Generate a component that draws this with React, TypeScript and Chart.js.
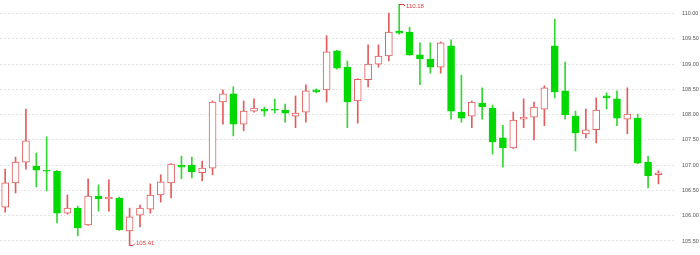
import React, { useEffect, useRef } from "react";
import { Chart, registerables } from "chart.js";

Chart.register(...registerables);

const opens = [
  106.17, 106.65, 107.06, 106.98, 106.9, 106.88, 106.05, 106.15, 105.82, 106.39,
  106.33, 106.35, 105.7, 106.01, 106.13, 106.41, 106.65, 107.0, 107.0, 106.85,
  106.94, 108.25, 108.41, 107.81, 108.07, 108.11, 108.11, 108.09, 107.97, 108.05,
  108.49, 108.49, 109.26, 108.94, 108.27, 108.69, 109.0, 109.16, 109.65, 109.63,
  109.18, 109.1, 108.94, 109.36, 108.05, 107.97, 108.23, 108.13, 107.54, 107.34,
  107.91, 107.95, 108.11, 109.36, 108.47, 107.97, 107.62, 107.7, 108.37, 108.31,
  107.91, 107.93, 107.06, 106.81,
];
const closes = [
  106.65, 107.06, 107.48, 106.9, 106.88, 106.05, 106.15, 105.76, 106.39, 106.33,
  106.37, 105.72, 105.98, 106.15, 106.41, 106.67, 107.02, 106.96, 106.87, 106.94,
  108.25, 108.41, 107.81, 108.07, 108.13, 108.07, 108.09, 108.03, 108.03, 108.47,
  108.45, 109.24, 108.92, 108.25, 108.7, 109.0, 109.16, 109.63, 109.61, 109.18,
  109.1, 108.94, 109.42, 108.07, 107.93, 108.25, 108.15, 107.46, 107.34, 107.89,
  107.95, 108.15, 108.53, 108.45, 108.0, 107.64, 107.7, 108.09, 108.33, 107.93,
  108.01, 107.04, 106.79, 106.85,
];
const highs = [
  106.92, 107.16, 108.11, 107.24, 107.56, 106.9, 106.41, 106.19, 106.73, 106.61,
  106.71, 106.37, 106.15, 106.21, 106.63, 106.81, 107.03, 107.18, 107.16, 107.08,
  108.27, 108.49, 108.55, 108.27, 108.31, 108.15, 108.31, 108.21, 108.37, 108.59,
  108.51, 109.56, 109.27, 109.06, 108.71, 109.38, 109.38, 110.01, 110.18, 109.73,
  109.42, 109.42, 109.44, 109.48, 108.78, 108.27, 108.53, 108.19, 107.79, 108.05,
  108.31, 108.25, 108.57, 109.89, 109.04, 108.07, 108.11, 108.33, 108.43, 108.47,
  108.53, 108.01, 107.18, 106.89,
];
const lows = [
  106.07, 106.45, 106.92, 106.57, 106.49, 105.86, 106.03, 105.6, 105.81, 106.09,
  106.09, 105.71, 105.41, 105.78, 106.05, 106.27, 106.35, 106.73, 106.75, 106.69,
  106.81, 107.81, 107.58, 107.68, 108.05, 107.97, 108.03, 107.85, 107.74, 107.85,
  108.43, 108.25, 108.9, 107.74, 107.83, 108.55, 108.94, 109.06, 109.59, 109.17,
  108.59, 108.82, 108.82, 107.91, 107.85, 107.74, 107.91, 107.22, 106.96, 107.33,
  107.74, 107.5, 107.78, 108.33, 107.91, 107.28, 107.54, 107.44, 108.11, 107.78,
  107.62, 107.03, 106.55, 106.63,
];
// one empty slot after the last candle
const categories = [...opens.map((_, i) => String(i + 1)), ""];
const yTicks = [105.5, 106.0, 106.5, 107.0, 107.5, 108.0, 108.5, 109.0, 109.5, 110.0];
const Y_MIN = 105.223;
const Y_MAX = 110.267;

const UP = "#e35d5d";
const DOWN = "#00d800";
const WICK_DOWN = "#33d633";
const MARK = "#e03a3a";

const markPlugin = {
  id: "extremes",
  afterDatasetsDraw(chart: any) {
    const ctx = chart.ctx;
    const meta = chart.getDatasetMeta(0);
    const y = chart.scales.y;
    let hi = 0;
    let lo = 0;
    highs.forEach((v, i) => { if (v > highs[hi]) hi = i; });
    lows.forEach((v, i) => { if (v < lows[lo]) lo = i; });
    ctx.save();
    ctx.strokeStyle = MARK;
    ctx.fillStyle = MARK;
    ctx.lineWidth = 1;
    ctx.font = "6px 'Liberation Sans'";
    ctx.textBaseline = "middle";
    ctx.textAlign = "left";
    // high
    const xh = Math.round(meta.data[hi].x);
    const yh = Math.round(y.getPixelForValue(highs[hi])) + 0.5;
    ctx.beginPath();
    ctx.moveTo(xh, yh);
    ctx.lineTo(xh + 5, yh);
    ctx.lineTo(xh + 6, yh + 1.5);
    ctx.stroke();
    ctx.fillText(highs[hi].toFixed(2), xh + 7, yh + 2);
    // low
    const xl = Math.round(meta.data[lo].x);
    const yl = Math.round(y.getPixelForValue(lows[lo])) - 0.5;
    ctx.beginPath();
    ctx.moveTo(xl, yl);
    ctx.lineTo(xl + 3, yl);
    ctx.lineTo(xl + 5, yl - 2);
    ctx.stroke();
    ctx.fillText(lows[lo].toFixed(2), xl + 6, yl - 2.5);
    ctx.restore();
  },
};

export default function App() {
  const ref = useRef<HTMLCanvasElement | null>(null);
  useEffect(() => {
    if (!ref.current) return;
    const up = opens.map((o, i) => closes[i] >= o);
    const chart = new Chart(ref.current, {
      type: "bar",
      data: {
        labels: categories,
        datasets: [
          {
            label: "wick",
            data: lows.map((l, i) => [l, highs[i]]) as any,
            backgroundColor: up.map((u) => (u ? UP : WICK_DOWN)),
            borderWidth: 0,
            barThickness: 1,
            grouped: false,
            order: 2,
          } as any,
          {
            label: "body",
            data: opens.map((o, i) => [Math.min(o, closes[i]), Math.max(o, closes[i])]) as any,
            backgroundColor: up.map((u) => (u ? "#ffffff" : DOWN)),
            borderColor: up.map((u) => (u ? UP : DOWN)),
            borderWidth: 1,
            borderSkipped: false,
            barThickness: 7,
            grouped: false,
            order: 1,
          } as any,
        ],
      },
      options: {
        animation: false,
        responsive: false,
        maintainAspectRatio: false,
        layout: { padding: 0 },
        plugins: { legend: { display: false }, tooltip: { enabled: false } },
        scales: {
          x: {
            type: "category",
            display: false,
            offset: true,
            grid: { display: false },
          },
          y: {
            position: "right",
            min: Y_MIN,
            max: Y_MAX,
            afterBuildTicks: (scale: any) => {
              scale.ticks = yTicks.map((v) => ({ value: v }));
            },
            afterFit: (scale: any) => {
              scale.width = 26;
              scale.paddingTop = 0;
              scale.paddingBottom = 0;
            },
            grid: { color: "#e2e2e2", drawTicks: false, lineWidth: 1 },
            border: { display: false, dash: [2, 2] },
            ticks: {
              padding: 8,
              color: "#555555",
              font: { size: 5.5, family: "'Liberation Sans'" },
              callback: (v: any) => Number(v).toFixed(2),
            },
          },
        },
      } as any,
      plugins: [markPlugin],
    });
    return () => chart.destroy();
  }, []);
  return (
    <div style={{ position: "fixed", left: 0, top: 0, width: 700, height: 255, background: "#fff" }}>
      <canvas ref={ref} width={700} height={255} />
    </div>
  );
}
